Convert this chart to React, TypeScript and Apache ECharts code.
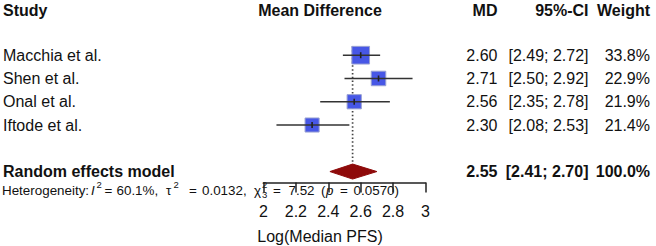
import React, { useEffect, useRef } from "react";
import * as echarts from "echarts";

// Study-level results
const studies = ["Macchia et al.", "Shen et al.", "Onal et al.", "Iftode et al."];
const md = [2.6, 2.71, 2.56, 2.3];
const ciLower = [2.49, 2.5, 2.35, 2.08];
const ciUpper = [2.72, 2.92, 2.78, 2.53];
const weights = [33.8, 22.9, 21.9, 21.4];

// Pooled random-effects estimate
const pooledLabel = "Random effects model";
const pooled = { md: 2.55, lower: 2.41, upper: 2.7, weight: 100.0 };

// Heterogeneity statistics
const hetI2 = "60.1%";
const hetTau2 = "0.0132";
const hetDf = "3";
const hetQ = "7.52";
const hetP = "0.0570";

// Axis ticks
const xTicks = [2, 2.2, 2.4, 2.6, 2.8, 3];

const headers = { study: "Study", plot: "Mean Difference", md: "MD", ci: "95%-CI", weight: "Weight" };
const axisTitle = "Log(Median PFS)";

const FONT = '"Liberation Sans", Arial, Helvetica, sans-serif';
const TEXT = "#111";

// layout (pixels)
const ROW0_Y = 55.2;
const ROW_H = 23.27;
const AXIS_Y = 182.5;
const PLOT_L = 263.5;
const PLOT_R = 425.5;
const pooledRow = studies.length + 2;
const rowY = (r: number) => ROW0_Y + (r - 1) * ROW_H;

const fmtCI = (lo: number, hi: number) => `[${lo.toFixed(2)}; ${hi.toFixed(2)}]`;

export default function App() {
  const ref = useRef<HTMLDivElement>(null);

  useEffect(() => {
    document.body.style.margin = "0";
    if (!ref.current) return;
    const chart = echarts.init(ref.current, undefined, { renderer: "svg" });

    const yMax = 1 + (AXIS_Y - ROW0_Y) / ROW_H;
    const gridTop = rowY(0);

    const studyData = studies.map((_, i) => [md[i], i + 1, ciLower[i], ciUpper[i], weights[i]]);

    const txt = (
      text: string,
      x: number,
      y: number,
      align: string,
      bold = false,
      size = 16,
      italic = false
    ) => ({
      type: "text",
      x,
      y,
      silent: true,
      z: 0,
      style: {
        text,
        font: `${italic ? "italic " : ""}${bold ? "bold " : ""}${size}px ${FONT}`,
        fill: TEXT,
        align,
        verticalAlign: "middle",
      },
    });

    const COL_MD = 497.5;
    const COL_CI = 588.5;
    const COL_W = 650;
    const HEAD_Y = 10.5;

    const graphics: any[] = [
      txt(headers.study, 3, HEAD_Y, "left", true),
      txt(headers.plot, 320, HEAD_Y, "center", true),
      txt(headers.md, COL_MD, HEAD_Y, "right", true),
      txt(headers.ci, COL_CI, HEAD_Y, "right", true),
      txt(headers.weight, COL_W, HEAD_Y, "right", true),
    ];
    studies.forEach((s, i) => {
      const y = rowY(i + 1);
      graphics.push(txt(s, 3, y, "left"));
      graphics.push(txt(md[i].toFixed(2), COL_MD, y, "right"));
      graphics.push(txt(fmtCI(ciLower[i], ciUpper[i]), COL_CI, y, "right"));
      graphics.push(txt(`${weights[i].toFixed(1)}%`, COL_W, y, "right"));
    });
    const py = rowY(pooledRow);
    graphics.push(txt(pooledLabel, 3, py, "left", true));
    graphics.push(txt(pooled.md.toFixed(2), COL_MD, py, "right", true));
    graphics.push(txt(fmtCI(pooled.lower, pooled.upper), COL_CI, py, "right", true));
    graphics.push(txt(`${pooled.weight.toFixed(1)}%`, COL_W, py, "right", true));
    graphics.push(txt(axisTitle, 320, 236, "center"));

    // heterogeneity statistics line, set piece by piece like plotmath
    const HY = 190;
    const HS = 13.4;
    const SS = 9.5;
    const hetPieces: [string, number, "n" | "i" | "sup" | "sub"][] = [
      ["Heterogeneity:", 2, "n"],
      ["I", 91, "i"],
      ["2", 96.5, "sup"],
      ["=", 104.5, "n"],
      [`${hetI2},`, 116.5, "n"],
      ["τ", 166, "n"],
      ["2", 173.5, "sup"],
      ["=", 189, "n"],
      [`${hetTau2},`, 202, "n"],
      ["χ", 254, "n"],
      ["2", 262, "sup"],
      [hetDf, 262, "sub"],
      ["=", 273, "n"],
      [hetQ, 288.5, "n"],
      ["(", 321, "n"],
      ["p", 326, "i"],
      ["=", 340, "n"],
      [`${hetP})`, 353.6, "n"],
    ];
    hetPieces.forEach(([t, x, kind]) => {
      if (kind === "sup") graphics.push(txt(t, x, HY - 5.5, "left", false, SS));
      else if (kind === "sub") graphics.push(txt(t, x, HY + 4.5, "left", false, SS));
      else graphics.push(txt(t, x, HY, "left", false, HS, kind === "i"));
    });

    const option: any = {
      animation: false,
      grid: {
        left: PLOT_L,
        width: PLOT_R - PLOT_L,
        top: gridTop,
        height: AXIS_Y - gridTop,
        containLabel: false,
      },
      xAxis: {
        type: "value",
        position: "bottom",
        min: xTicks[0],
        max: xTicks[xTicks.length - 1],
        interval: 0.2,
        z: 5,
        splitLine: { show: false },
        axisLine: { show: true, onZero: false, lineStyle: { color: "#222", width: 1.5 } },
        axisTick: { show: true, length: 10, lineStyle: { color: "#222", width: 1.5 } },
        axisLabel: {
          margin: 21,
          fontSize: 16,
          fontFamily: FONT,
          color: TEXT,
          formatter: (v: number) => String(Math.round(v * 10) / 10),
          showMinLabel: true,
          showMaxLabel: true,
        },
      },
      yAxis: {
        type: "value",
        min: 0,
        max: yMax,
        inverse: true,
        show: false,
      },
      graphic: graphics,
      series: [
        {
          // reference line through the pooled estimate
          type: "custom",
          silent: true,
          z: 1,
          data: [[pooled.md, 0.62, pooledRow]],
          renderItem: (params: any, api: any) => {
            const top = api.coord([api.value(0), api.value(1)]);
            const bot = api.coord([api.value(0), api.value(2)]);
            return {
              type: "line",
              shape: { x1: top[0], y1: top[1], x2: bot[0], y2: bot[1] - 7.5 },
              style: { stroke: "#444", lineWidth: 1.7, lineDash: [1.5, 2.3] },
            };
          },
        },
        {
          // study squares with confidence intervals
          type: "custom",
          silent: true,
          z: 3,
          data: studyData,
          renderItem: (params: any, api: any) => {
            const c = api.coord([api.value(0), api.value(1)]);
            const lo = api.coord([api.value(2), api.value(1)]);
            const hi = api.coord([api.value(3), api.value(1)]);
            const size = 3.04 * Math.sqrt(api.value(4));
            return {
              type: "group",
              children: [
                {
                  type: "rect",
                  shape: { x: c[0] - size / 2, y: c[1] - size / 2, width: size, height: size },
                  style: { fill: "#4757E6", stroke: "#9aa2d2", lineWidth: 1 },
                },
                {
                  type: "line",
                  shape: { x1: lo[0], y1: c[1], x2: hi[0], y2: c[1] },
                  style: { stroke: "#333", lineWidth: 1.4 },
                },
                {
                  type: "line",
                  shape: { x1: c[0], y1: c[1] - 3, x2: c[0], y2: c[1] + 3 },
                  style: { stroke: "#222", lineWidth: 1.6 },
                },
              ],
            };
          },
        },
        {
          // pooled diamond
          type: "custom",
          silent: true,
          z: 3,
          data: [[pooled.md, pooledRow, pooled.lower, pooled.upper]],
          renderItem: (params: any, api: any) => {
            const c = api.coord([api.value(0), api.value(1)]);
            const lo = api.coord([api.value(2), api.value(1)]);
            const hi = api.coord([api.value(3), api.value(1)]);
            const h = 7.5;
            return {
              type: "polygon",
              shape: {
                points: [
                  [lo[0], c[1]],
                  [c[0], c[1] - h],
                  [hi[0], c[1]],
                  [c[0], c[1] + h],
                ],
              },
              style: { fill: "#8E0A0A", stroke: "#8E0A0A", lineWidth: 1 },
            };
          },
        },
      ],
    };

    chart.setOption(option);
    return () => chart.dispose();
  }, []);

  return <div ref={ref} style={{ width: 656, height: 246 }} />;
}
